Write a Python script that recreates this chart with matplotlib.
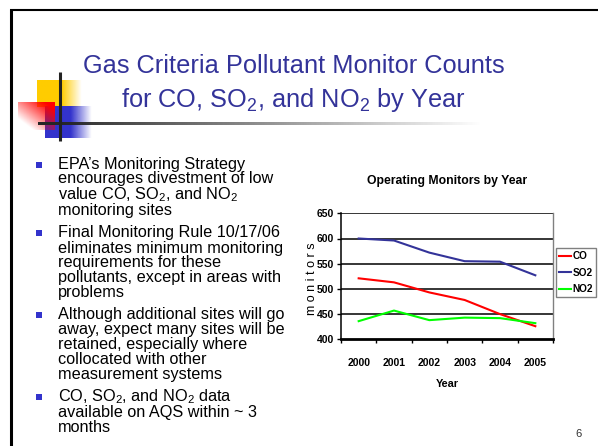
import numpy as np
import matplotlib
matplotlib.use('Agg')
import matplotlib.pyplot as plt
from matplotlib.patches import Rectangle

plt.rcParams['font.family'] = ['Liberation Sans', 'DejaVu Sans']
plt.rcParams['mathtext.default'] = 'regular'

# chart data
years = ['2000', '2001', '2002', '2003', '2004', '2005']
co = [521, 513, 493, 478, 450, 426]
so2 = [600, 596, 572, 555, 554, 527]
no2 = [436, 457, 438, 443, 442, 432]

title_lines = ['Gas Criteria Pollutant Monitor Counts',
               'for CO, SO$_2$, and NO$_2$ by Year']

bullet_text = [
    ['EPA\u2019s Monitoring Strategy', 'encourages divestment of low',
     'value CO, SO$_2$, and NO$_2$', 'monitoring sites'],
    ['Final Monitoring Rule 10/17/06', 'eliminates minimum monitoring',
     'requirements for these', 'pollutants, except in areas with', 'problems'],
    ['Although additional sites will go', 'away, expect many sites will be',
     'retained, especially where', 'collocated with other', 'measurement systems'],
    ['CO, SO$_2$, and NO$_2$ data', 'available on AQS within ~ 3', 'months'],
]
# baselines (px from top) of each text line
line_y = [[169, 183, 199, 215.5],
          [237, 253, 267.5, 282, 297],
          [319, 334, 349, 364, 379.5],
          [401, 416.5, 432]]

W, H = 598, 446
fig = plt.figure(figsize=(W / 100, H / 100), dpi=100)

# ---- slide background in pixel coordinates ----
ov = fig.add_axes([0, 0, 1, 1], zorder=0)
ov.axis('off')


def grad_img(rgb, alpha):
    img = np.zeros(alpha.shape + (4,))
    img[..., :3] = rgb
    img[..., 3] = alpha
    return img


# yellow square fading right
xs = np.linspace(0, 1, 60)
a = np.clip((1 - xs) / 0.45, 0, 1)
ov.imshow(grad_img((1, 0.8, 0), np.tile(a, (10, 1))), extent=(37, 82, 107, 80),
          aspect='auto', interpolation='bilinear')
# blue square fading right
ov.imshow(grad_img((0.2, 0.2, 0.8), np.tile(a, (10, 1))), extent=(45, 92, 138, 106),
          aspect='auto', interpolation='bilinear')
# red square, strong at the top right
gx, gy = np.meshgrid(np.linspace(0, 1, 50), np.linspace(0, 1, 50))
ra = np.clip(gx * 0.75 + (1 - gy) * 0.75 - 0.3, 0, 1)
ov.imshow(grad_img((1, 0, 0), ra), extent=(18, 55, 130, 102),
          aspect='auto', interpolation='bilinear')
# horizontal rule fading out
la = np.clip(1 - (np.linspace(38, 480, 200) - 53) / 430, 0, 1)
ov.imshow(grad_img((0.15, 0.15, 0.15), np.tile(la, (3, 1))), extent=(38, 480, 125.5, 122.5),
          aspect='auto', interpolation='bilinear')
ov.plot([60, 60], [72, 141], color='#222222', lw=2.2, solid_capstyle='butt')

# frame
ov.plot([10.5, 10.5], [8.5, H], color='black', lw=2.2, solid_capstyle='butt')
ov.plot([9.5, W], [9.5, 9.5], color='black', lw=1.5, solid_capstyle='butt')

ov.set_xlim(0, W)
ov.set_ylim(H, 0)

# slide title
ov.text(293.5, 73, title_lines[0], ha='center', va='baseline', fontsize=18.3, color='#333399')
ov.text(293.5, 107, title_lines[1], ha='center', va='baseline', fontsize=18.3, color='#333399')

# bullets
for lines, ys in zip(bullet_text, line_y):
    ov.add_patch(Rectangle((36, ys[0] - 7.5), 6, 6, color='#3333CC', lw=0))
    for txt, y in zip(lines, ys):
        ov.text(58, y, txt, ha='left', va='baseline', fontsize=11.7, color='black')

ov.text(579, 437, '6', ha='center', va='baseline', fontsize=8, color='#333333')

# ---- chart ----
left, right, top, bottom = 341, 553, 213.3, 339.3
ax = fig.add_axes([left / W, 1 - bottom / H, (right - left) / W, (bottom - top) / H], zorder=1)
ax.set_facecolor('none')

x = np.arange(len(years))
ax.plot(x, co, color='#FF0000', lw=1.5, label='CO')
ax.plot(x, so2, color='#333399', lw=1.5, label='SO2')
ax.plot(x, no2, color='#00FF00', lw=1.5, label='NO2')

ax.set_xlim(-0.5, len(years) - 0.5)
ax.set_ylim(400, 650)
ax.set_yticks(np.arange(400, 651, 50))
for v in np.arange(450, 651, 50):
    ax.axhline(v, color='black', lw=1.1, zorder=0)

ax.set_xticks(np.arange(-0.5, len(years), 1.0))
ax.set_xticklabels([])
ax.set_xticks(x, minor=True)
ax.set_xticklabels(years, minor=True, fontweight='bold', fontsize=7.5)
ax.tick_params(axis='x', which='major', direction='out', length=3, width=1, color='black')
ax.tick_params(axis='x', which='minor', length=0, pad=13.5)
ax.tick_params(axis='y', direction='out', length=3, width=1, pad=2.2)
for lab in ax.get_yticklabels():
    lab.set_fontweight('bold')
    lab.set_fontsize(7.5)

ax.spines['top'].set_visible(False)
ax.spines['right'].set_color('#808080')
ax.spines['right'].set_linewidth(1)
ax.spines['left'].set_linewidth(1.1)
ax.spines['bottom'].set_linewidth(2)

ax.set_title('Operating Monitors by Year', fontweight='bold', fontsize=8.8, pad=21)
ax.set_xlabel('Year', fontweight='bold', fontsize=7.8, va='center')
ax.xaxis.set_label_coords(0.5, (bottom - 384) / (bottom - top))
ax.set_ylabel('m o n i t o r s', fontsize=9, va='center')
ax.yaxis.set_label_coords((312 - left) / (right - left), (bottom - 279) / (bottom - top))

fig.legend(loc='upper left', bbox_to_anchor=(556 / W, 1 - 248 / H), borderaxespad=0,
           frameon=True, fancybox=False, edgecolor='#808080', framealpha=1,
           prop={'weight': 'bold', 'size': 7.2},
           handlelength=1.2, handletextpad=0.15, labelspacing=0.65, borderpad=0.3)

fig.savefig('out.png', dpi=100)
